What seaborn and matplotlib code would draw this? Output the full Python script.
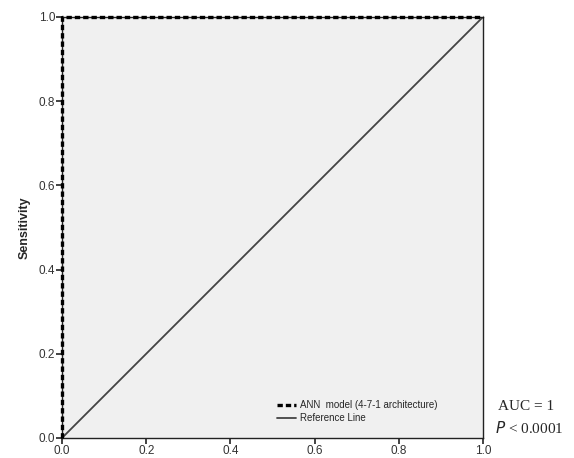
import matplotlib
matplotlib.use("Agg")
import matplotlib.pyplot as plt
import seaborn as sns
import pandas as pd

# ROC curve points (1 - specificity, sensitivity)
fpr = [0.0, 0.0, 1.0]
tpr = [0.0, 1.0, 1.0]
ref_x = [0.0, 1.0]
ref_y = [0.0, 1.0]
ticks = [0.0, 0.2, 0.4, 0.6, 0.8, 1.0]

sns.set_style("ticks")
plt.rcParams['font.family'] = ['Liberation Sans', 'DejaVu Sans']

fig = plt.figure(figsize=(5.74, 4.58), dpi=100)
ax = fig.add_axes([0.108, 0.0437, 0.7335, 0.9193])
ax.set_facecolor("#f0f0f0")

roc = pd.DataFrame({"x": fpr, "y": tpr})
ref = pd.DataFrame({"x": ref_x, "y": ref_y})

sns.lineplot(data=ref, x="x", y="y", ax=ax, color="#444444", linewidth=1.3,
             sort=False, estimator=None, label="Reference Line", zorder=2)
sns.lineplot(data=roc, x="x", y="y", ax=ax, color="black", linewidth=2.4,
             linestyle=(0, (1.6, 0.9)), sort=False, estimator=None,
             label="ANN  model (4-7-1 architecture)", zorder=3, clip_on=False)

ax.set_xlim(0, 1)
ax.set_ylim(0, 1)
ax.set_xticks(ticks)
ax.set_yticks(ticks)
ax.set_xticklabels([f"{t:.1f}" for t in ticks], fontsize=8.5, color="#333333")
ax.set_yticklabels([f"{t:.1f}" for t in ticks], fontsize=8.5, color="#333333")
ax.tick_params(direction="out", length=4, width=1.2, color="#222222", pad=1)
ax.set_xlabel("")
ax.set_ylabel("Sensitivity", fontsize=9, fontweight="bold", labelpad=6)
for s in ax.spines.values():
    s.set_color("#222222")
    s.set_linewidth(1.0)

h, l = ax.get_legend_handles_labels()
ax.legend(h[::-1], l[::-1], loc="lower left", bbox_to_anchor=(0.49, 0.015),
          frameon=False, fontsize=7, handlelength=2.0, handletextpad=0.4,
          labelspacing=0.3)

fig.text(0.868, 0.105, "AUC = 1", fontsize=11, family="Liberation Serif")
fig.text(0.863, 0.055, "$P$ < 0.0001", fontsize=11, family="Liberation Serif")

fig.savefig("out.png", dpi=100)
